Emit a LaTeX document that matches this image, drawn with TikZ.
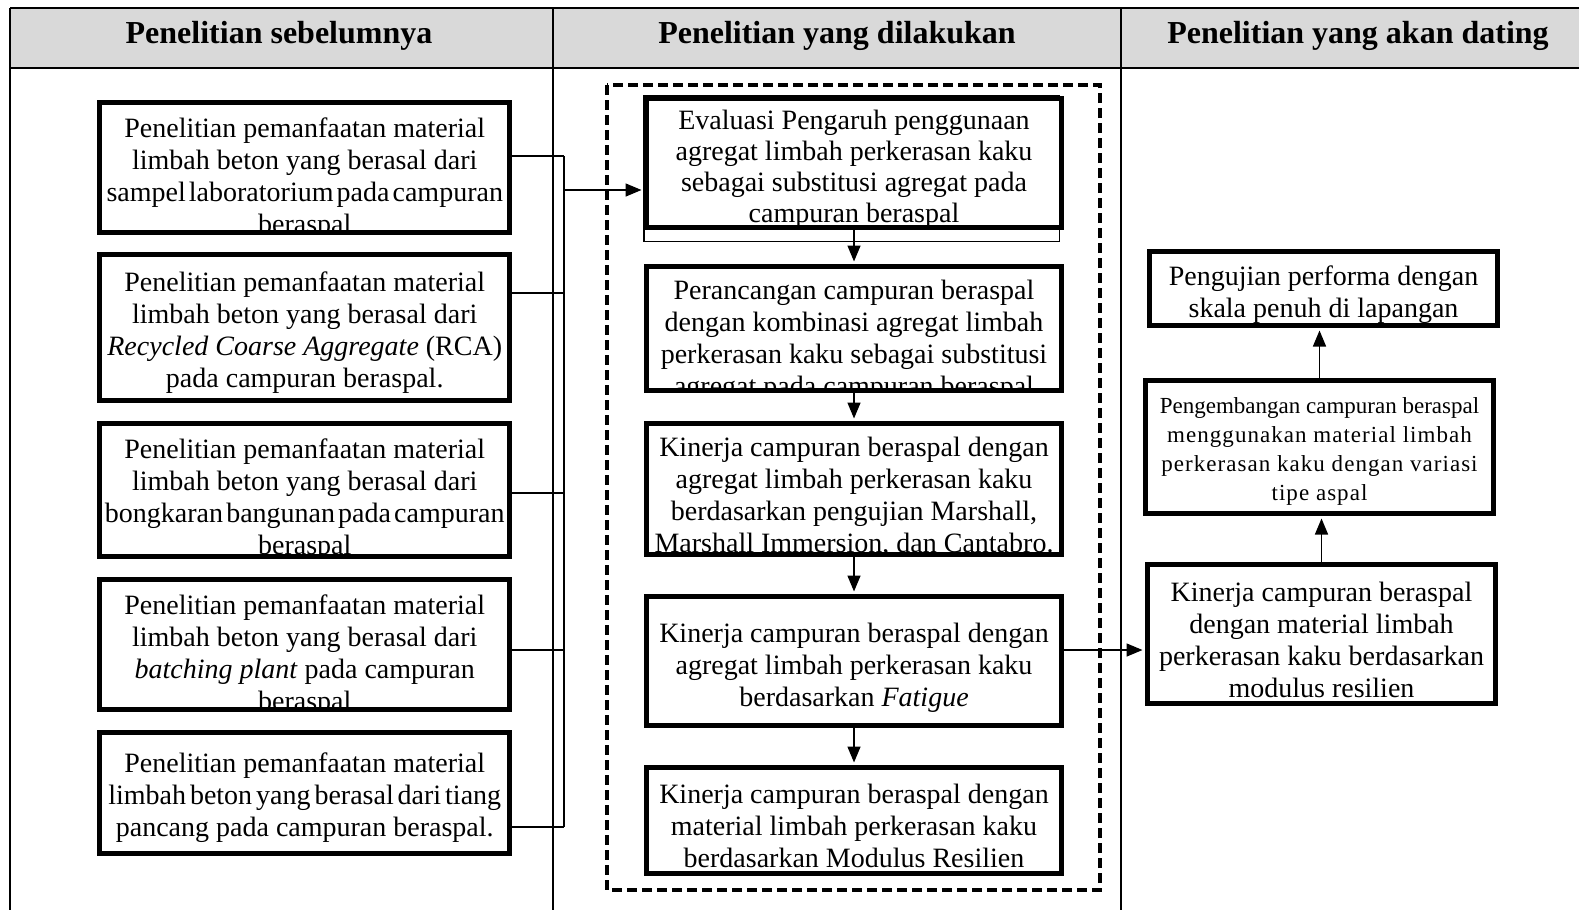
\documentclass[tikz,border=0pt]{standalone}
\usepackage{fontspec}
\setmainfont{Liberation Serif}
\newfontfamily\spacedfont{Liberation Serif}[LetterSpace=4.5]
\usepackage{tikz}
\usetikzlibrary{arrows.meta}
\definecolor{headgray}{RGB}{217,217,217}
\newcommand\bxfont{\fontsize{14}{16}\selectfont}
\newcommand\smbxfont{\fontsize{11.5}{14.5}\selectfont}
\newcommand\headfont{\bfseries\fontsize{16}{19}\selectfont}
\newcommand\tight[1]{{\spaceskip=0.11em plus 0.02em\relax #1}}
\tikzstyle{resbox}=[draw, line width=2.5pt, fill=white, inner sep=1pt]
\tikzstyle{leftbox}=[resbox, minimum width=205pt]
\tikzstyle{midbox}=[resbox, minimum width=207.5pt]
\tikzstyle{rightbox}=[resbox, minimum width=174pt]
\tikzstyle{wire}=[line width=0.75pt]
\tikzstyle{arr}=[line width=0.75pt, shorten >=1.25pt, -{Triangle[length=8pt,width=6.5pt]}]
% box text is cut off by the frame where it runs over
\tikzset{cuttext/.style n args={3}{path picture={\node[anchor=north, align=center, inner sep=0pt, font=#2] at ([yshift=#1]path picture bounding box.north) {#3};}},
         cutbox/.style 2 args={cuttext={#1}{\bxfont}{#2}}}

\begin{document}
\begin{tikzpicture}[x=0.5pt, y=-0.5pt]
    \useasboundingbox (0,0) rectangle (1579,910);
    % table
    \fill[headgray] (10,8) rectangle (1579,68);
    \draw[line width=1.25pt] (10,8) -- (1579,8);
    \draw[line width=1.25pt] (10,68) -- (1579,68);
    \draw[line width=1pt] (10,8) -- (10,910);
    \draw[line width=1pt] (553,8) -- (553,910);
    \draw[line width=1pt] (1121,8) -- (1121,910);
    \node[font=\headfont] (h1) at (279,36) {Penelitian sebelumnya};
    \node[font=\headfont] (h2) at (837,36) {Penelitian yang dilakukan};
    \node[font=\headfont] (h3) at (1358,36) {Penelitian yang akan dating};

    % penelitian sebelumnya
    \node[leftbox, minimum height=65pt, cutbox={-4.25pt}{Penelitian pemanfaatan material\\limbah beton yang berasal dari\\\tight{sampel laboratorium pada campuran}\\beraspal}] (L1) at (304.75,167.5) {};
    \node[leftbox, minimum height=73pt, cutbox={-1.5pt}{Penelitian pemanfaatan material\\limbah beton yang berasal dari\\\textit{Recycled Coarse Aggregate} (RCA)\\pada campuran beraspal.}] (L2) at (304.75,327.5) {};
    \node[leftbox, minimum height=66.5pt, cutbox={-3.75pt}{Penelitian pemanfaatan material\\limbah beton yang berasal dari\\\tight{bongkaran bangunan pada campuran}\\beraspal}] (L3) at (304.75,490) {};
    \node[leftbox, minimum height=65pt, cutbox={-4.25pt}{Penelitian pemanfaatan material\\limbah beton yang berasal dari\\\textit{batching plant} pada campuran\\beraspal}] (L4) at (304.75,644.5) {};
    \node[leftbox, minimum height=60.5pt, cutbox={-1.2pt}{Penelitian pemanfaatan material\\{\spaceskip=0.14em\relax limbah beton yang berasal dari tiang}\\pancang pada campuran beraspal.}] (L5) at (304.75,793) {};

    % penelitian yang dilakukan
    \draw[line width=2pt, dash pattern=on 5pt off 2.5pt] (607,85) rectangle (1100,890);
    \node[midbox, minimum height=64.5pt, cuttext={-2pt}{\fontsize{14}{15.5}\selectfont}{Evaluasi Pengaruh penggunaan\\agregat limbah perkerasan kaku\\sebagai substitusi agregat pada\\campuran beraspal}] (m1) at (854,163) {};
    \draw[line width=0.75pt] (m1.north west) rectangle ([xshift=-2.25pt,yshift=-5.75pt]m1.south east);
    \node[midbox, minimum height=62pt, cutbox={-4.75pt}{Perancangan campuran beraspal\\dengan kombinasi agregat limbah\\perkerasan kaku sebagai substitusi\\agregat pada campuran beraspal}] (m2) at (854,328.5) {};
    \node[midbox, minimum height=65.5pt, cutbox={-2.75pt}{Kinerja campuran beraspal dengan\\agregat limbah perkerasan kaku\\berdasarkan pengujian Marshall,\\Marshall Immersion, dan Cantabro.}] (m3) at (854,489) {};
    \node[midbox, minimum height=64.5pt, cutbox={-2.2pt}{Kinerja campuran beraspal dengan\\agregat limbah perkerasan kaku\\berdasarkan \textit{Fatigue}}] (m4) at (854,661) {};
    \node[midbox, minimum height=53pt, cutbox={-1.4pt}{Kinerja campuran beraspal dengan\\material limbah perkerasan kaku\\berdasarkan Modulus Resilien}] (m5) at (854,820.5) {};

    % penelitian yang akan datang
    \node[rightbox, minimum height=37pt, cutbox={-1.8pt}{Pengujian performa dengan\\skala penuh di lapangan}] (R1) at (1323.5,288.5) {};
    \node[rightbox, minimum height=66.5pt, cuttext={-1pt}{\smbxfont}{Pengembangan campuran beraspal\\{\spacedfont menggunakan material limbah}\\{\spacedfont perkerasan kaku dengan variasi}\\{\spacedfont tipe aspal}}] (R2) at (1319.5,447) {};
    \node[rightbox, minimum height=69.5pt, cutbox={-1.5pt}{Kinerja campuran beraspal\\dengan material limbah\\perkerasan kaku berdasarkan\\modulus resilien}] (R3) at (1321.5,634) {};

    % connectors
    \coordinate (bus) at (564,190);
    \foreach \n/\s [count=\i] in {L1/5.75pt, L2/17.25pt, L3/-1.5pt, L4/-2.75pt, L5/-17pt}{
        \coordinate (w\i) at ([yshift=\s]\n.east);
        \draw[wire] (w\i) -- (w\i -| bus);
    }
    \draw[wire] (w1 -| bus) -- (w5 -| bus);
    \draw[arr] (bus) -- (bus -| m1.west);
    \foreach \a/\b in {m1/m2, m2/m3, m3/m4, m4/m5}
        \draw[arr] (\a.south) -- (\b.north);
    \coordinate (w6) at ([yshift=5.5pt]m4.east);
    \draw[arr] (w6) -- (w6 -| R3.west);
    \draw[arr] (R3.north) -- (R3.north |- R2.south);
    \draw[arr] (R2.north) -- (R2.north |- R1.south);
\end{tikzpicture}
\end{document}
